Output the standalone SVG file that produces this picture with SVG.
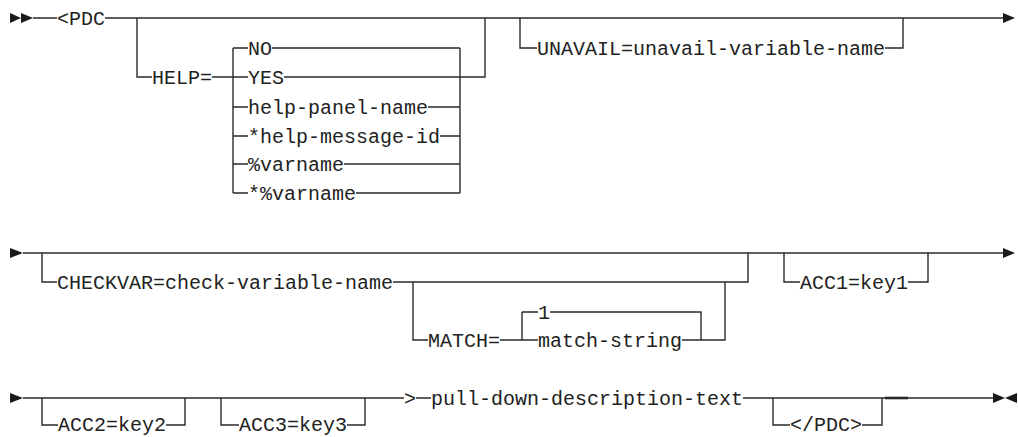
<svg xmlns="http://www.w3.org/2000/svg" width="1018" height="437" viewBox="0 0 1018 437">
<style>
.l{fill:none;stroke:#2a2a2a;stroke-width:1.4}
.t{font-family:"Liberation Mono","DejaVu Sans Mono",monospace;font-size:20px;fill:#222}
.a{fill:#1a1a1a}
</style>
<rect width="1018" height="437" fill="#fff"/>
<g id="connectors">
<!-- row 1 -->
<path class="l" d="M33 18H57M105 18H1003"/>
<path class="l" d="M137 18V77H152M212 77H233"/>
<path class="l" d="M233 48V193"/>
<path class="l" d="M233 48H248M272 48H460"/>
<path class="l" d="M233 77H248M284 77H485V18"/>
<path class="l" d="M233 107H248M428 107H460"/>
<path class="l" d="M233 136H248M440 136H460"/>
<path class="l" d="M233 164H248M344 164H460"/>
<path class="l" d="M233 193H248M356 193H460"/>
<path class="l" d="M460 48V193"/>
<path class="l" d="M520 18V48H537M885 48H903V18"/>
<!-- row 2 -->
<path class="l" d="M23 253H1003"/>
<path class="l" d="M42 253V282H57M393 282H748V253"/>
<path class="l" d="M413 282V340H428M500 340H522"/>
<path class="l" d="M522 312V340M522 312H538M550 312H701V340"/>
<path class="l" d="M522 340H538M682 340H725V282"/>
<path class="l" d="M784 253V282H800M908 282H928V253"/>
<!-- row 3 -->
<path class="l" d="M23 398H404M416 398H431M743 398H993"/>
<path class="l" d="M42 398V425H58M166 425H185V398"/>
<path class="l" d="M221 398V425H239M347 425H365V398"/>
<path class="l" d="M773 398V425H790M862 425H882V398"/>
<path class="l" d="M885 398H908" style="stroke-width:2.6"/>
<!-- arrowheads -->
<path class="a" d="M10 13L21 18L10 23ZM21 13L33 18L21 23Z"/>
<path class="a" d="M1003 13L1015 18L1003 23Z"/>
<path class="a" d="M10 248L23 253L10 258Z"/>
<path class="a" d="M1003 248L1015 253L1003 258Z"/>
<path class="a" d="M10 393L23 398L10 403Z"/>
<path class="a" d="M993 393L1005 398L993 403ZM1017 393L1005 398L1017 403Z"/>
</g>
<g id="n-pdc"><text class="t" x="57" y="25">&lt;PDC</text></g>
<g id="n-help"><text class="t" x="152" y="84">HELP=</text></g>
<g id="n-no"><text class="t" x="248" y="55">NO</text></g>
<g id="n-yes"><text class="t" x="248" y="84">YES</text></g>
<g id="n-helppanel"><text class="t" x="248" y="114">help-panel-name</text></g>
<g id="n-helpmsg"><text class="t" x="248" y="143">*help-message-id</text></g>
<g id="n-varname"><text class="t" x="248" y="171">%varname</text></g>
<g id="n-starvarname"><text class="t" x="248" y="200">*%varname</text></g>
<g id="n-unavail"><text class="t" x="537" y="55">UNAVAIL=unavail-variable-name</text></g>
<g id="n-checkvar"><text class="t" x="57" y="289">CHECKVAR=check-variable-name</text></g>
<g id="n-match"><text class="t" x="428" y="347">MATCH=</text></g>
<g id="n-one"><text class="t" x="538" y="319">1</text></g>
<g id="n-matchstring"><text class="t" x="538" y="347">match-string</text></g>
<g id="n-acc1"><text class="t" x="800" y="289">ACC1=key1</text></g>
<g id="n-acc2"><text class="t" x="58" y="431">ACC2=key2</text></g>
<g id="n-acc3"><text class="t" x="239" y="431">ACC3=key3</text></g>
<g id="n-gt"><text class="t" x="404" y="405">&gt;</text></g>
<g id="n-text"><text class="t" x="431" y="405">pull-down-description-text</text></g>
<g id="n-endpdc"><text class="t" x="790" y="431">&lt;/PDC&gt;</text></g>
</svg>
